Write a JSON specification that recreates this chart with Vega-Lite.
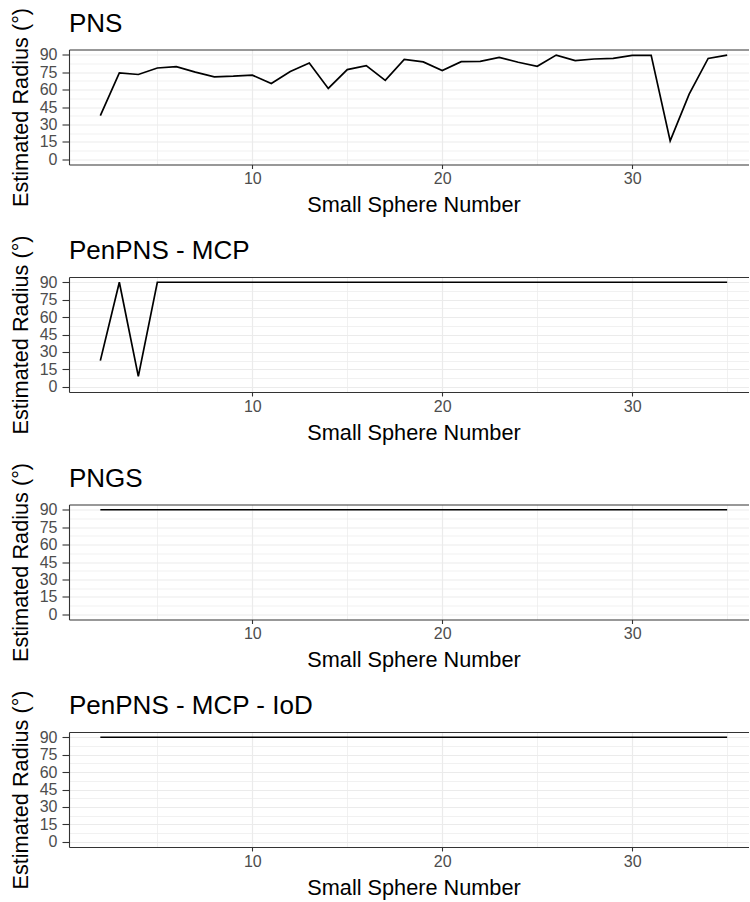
{
  "$schema": "https://vega.github.io/schema/vega-lite/v6.json",
  "padding": {"left": 10, "top": 6.5, "right": 0, "bottom": 0},
  "background": "white",
  "config": {
    "view": {"stroke": null},
    "font": "Liberation Sans",
    "title": {"fontSize": 26, "fontWeight": "normal", "color": "#000000", "anchor": "start", "frame": "group", "baseline": "alphabetic", "offset": -29.5},
    "axis": {
      "labelFont": "Liberation Sans", "labelFontSize": 16, "labelColor": "#4d4d4d",
      "titleFont": "Liberation Sans", "titleFontSize": 21.7, "titleFontWeight": "normal", "titleColor": "#000000",
      "tickColor": "#333333", "tickWidth": 1.1, "domainColor": "#333333", "domainWidth": 1.1,
      "gridColor": "#ebebeb"
    },
    "concat": {"spacing": 17.5}
  },
  "data": {"values": [
    {"method": "PNS", "sphere": 2, "radius": 37.5},
    {"method": "PNS", "sphere": 3, "radius": 74.4},
    {"method": "PNS", "sphere": 4, "radius": 73.0},
    {"method": "PNS", "sphere": 5, "radius": 78.6},
    {"method": "PNS", "sphere": 6, "radius": 79.8},
    {"method": "PNS", "sphere": 7, "radius": 75.0},
    {"method": "PNS", "sphere": 8, "radius": 71.0},
    {"method": "PNS", "sphere": 9, "radius": 71.5},
    {"method": "PNS", "sphere": 10, "radius": 72.4},
    {"method": "PNS", "sphere": 11, "radius": 65.3},
    {"method": "PNS", "sphere": 12, "radius": 75.5},
    {"method": "PNS", "sphere": 13, "radius": 82.9},
    {"method": "PNS", "sphere": 14, "radius": 61.0},
    {"method": "PNS", "sphere": 15, "radius": 77.2},
    {"method": "PNS", "sphere": 16, "radius": 80.6},
    {"method": "PNS", "sphere": 17, "radius": 67.9},
    {"method": "PNS", "sphere": 18, "radius": 86.0},
    {"method": "PNS", "sphere": 19, "radius": 83.8},
    {"method": "PNS", "sphere": 20, "radius": 76.4},
    {"method": "PNS", "sphere": 21, "radius": 84.0},
    {"method": "PNS", "sphere": 22, "radius": 84.3},
    {"method": "PNS", "sphere": 23, "radius": 87.7},
    {"method": "PNS", "sphere": 24, "radius": 83.5},
    {"method": "PNS", "sphere": 25, "radius": 80.0},
    {"method": "PNS", "sphere": 26, "radius": 89.7},
    {"method": "PNS", "sphere": 27, "radius": 84.9},
    {"method": "PNS", "sphere": 28, "radius": 86.3},
    {"method": "PNS", "sphere": 29, "radius": 86.9},
    {"method": "PNS", "sphere": 30, "radius": 89.4},
    {"method": "PNS", "sphere": 31, "radius": 89.4},
    {"method": "PNS", "sphere": 32, "radius": 15.8},
    {"method": "PNS", "sphere": 33, "radius": 56.0},
    {"method": "PNS", "sphere": 34, "radius": 86.8},
    {"method": "PNS", "sphere": 35, "radius": 89.7},

    {"method": "PenPNS - MCP", "sphere": 2, "radius": 22.5},
    {"method": "PenPNS - MCP", "sphere": 3, "radius": 90},
    {"method": "PenPNS - MCP", "sphere": 4, "radius": 9.0},
    {"method": "PenPNS - MCP", "sphere": 5, "radius": 90},
    {"method": "PenPNS - MCP", "sphere": 6, "radius": 90},
    {"method": "PenPNS - MCP", "sphere": 7, "radius": 90},
    {"method": "PenPNS - MCP", "sphere": 8, "radius": 90},
    {"method": "PenPNS - MCP", "sphere": 9, "radius": 90},
    {"method": "PenPNS - MCP", "sphere": 10, "radius": 90},
    {"method": "PenPNS - MCP", "sphere": 11, "radius": 90},
    {"method": "PenPNS - MCP", "sphere": 12, "radius": 90},
    {"method": "PenPNS - MCP", "sphere": 13, "radius": 90},
    {"method": "PenPNS - MCP", "sphere": 14, "radius": 90},
    {"method": "PenPNS - MCP", "sphere": 15, "radius": 90},
    {"method": "PenPNS - MCP", "sphere": 16, "radius": 90},
    {"method": "PenPNS - MCP", "sphere": 17, "radius": 90},
    {"method": "PenPNS - MCP", "sphere": 18, "radius": 90},
    {"method": "PenPNS - MCP", "sphere": 19, "radius": 90},
    {"method": "PenPNS - MCP", "sphere": 20, "radius": 90},
    {"method": "PenPNS - MCP", "sphere": 21, "radius": 90},
    {"method": "PenPNS - MCP", "sphere": 22, "radius": 90},
    {"method": "PenPNS - MCP", "sphere": 23, "radius": 90},
    {"method": "PenPNS - MCP", "sphere": 24, "radius": 90},
    {"method": "PenPNS - MCP", "sphere": 25, "radius": 90},
    {"method": "PenPNS - MCP", "sphere": 26, "radius": 90},
    {"method": "PenPNS - MCP", "sphere": 27, "radius": 90},
    {"method": "PenPNS - MCP", "sphere": 28, "radius": 90},
    {"method": "PenPNS - MCP", "sphere": 29, "radius": 90},
    {"method": "PenPNS - MCP", "sphere": 30, "radius": 90},
    {"method": "PenPNS - MCP", "sphere": 31, "radius": 90},
    {"method": "PenPNS - MCP", "sphere": 32, "radius": 90},
    {"method": "PenPNS - MCP", "sphere": 33, "radius": 90},
    {"method": "PenPNS - MCP", "sphere": 34, "radius": 90},
    {"method": "PenPNS - MCP", "sphere": 35, "radius": 90},

    {"method": "PNGS", "sphere": 2, "radius": 90},
    {"method": "PNGS", "sphere": 3, "radius": 90},
    {"method": "PNGS", "sphere": 4, "radius": 90},
    {"method": "PNGS", "sphere": 5, "radius": 90},
    {"method": "PNGS", "sphere": 6, "radius": 90},
    {"method": "PNGS", "sphere": 7, "radius": 90},
    {"method": "PNGS", "sphere": 8, "radius": 90},
    {"method": "PNGS", "sphere": 9, "radius": 90},
    {"method": "PNGS", "sphere": 10, "radius": 90},
    {"method": "PNGS", "sphere": 11, "radius": 90},
    {"method": "PNGS", "sphere": 12, "radius": 90},
    {"method": "PNGS", "sphere": 13, "radius": 90},
    {"method": "PNGS", "sphere": 14, "radius": 90},
    {"method": "PNGS", "sphere": 15, "radius": 90},
    {"method": "PNGS", "sphere": 16, "radius": 90},
    {"method": "PNGS", "sphere": 17, "radius": 90},
    {"method": "PNGS", "sphere": 18, "radius": 90},
    {"method": "PNGS", "sphere": 19, "radius": 90},
    {"method": "PNGS", "sphere": 20, "radius": 90},
    {"method": "PNGS", "sphere": 21, "radius": 90},
    {"method": "PNGS", "sphere": 22, "radius": 90},
    {"method": "PNGS", "sphere": 23, "radius": 90},
    {"method": "PNGS", "sphere": 24, "radius": 90},
    {"method": "PNGS", "sphere": 25, "radius": 90},
    {"method": "PNGS", "sphere": 26, "radius": 90},
    {"method": "PNGS", "sphere": 27, "radius": 90},
    {"method": "PNGS", "sphere": 28, "radius": 90},
    {"method": "PNGS", "sphere": 29, "radius": 90},
    {"method": "PNGS", "sphere": 30, "radius": 90},
    {"method": "PNGS", "sphere": 31, "radius": 90},
    {"method": "PNGS", "sphere": 32, "radius": 90},
    {"method": "PNGS", "sphere": 33, "radius": 90},
    {"method": "PNGS", "sphere": 34, "radius": 90},
    {"method": "PNGS", "sphere": 35, "radius": 90},

    {"method": "PenPNS - MCP - IoD", "sphere": 2, "radius": 90},
    {"method": "PenPNS - MCP - IoD", "sphere": 3, "radius": 90},
    {"method": "PenPNS - MCP - IoD", "sphere": 4, "radius": 90},
    {"method": "PenPNS - MCP - IoD", "sphere": 5, "radius": 90},
    {"method": "PenPNS - MCP - IoD", "sphere": 6, "radius": 90},
    {"method": "PenPNS - MCP - IoD", "sphere": 7, "radius": 90},
    {"method": "PenPNS - MCP - IoD", "sphere": 8, "radius": 90},
    {"method": "PenPNS - MCP - IoD", "sphere": 9, "radius": 90},
    {"method": "PenPNS - MCP - IoD", "sphere": 10, "radius": 90},
    {"method": "PenPNS - MCP - IoD", "sphere": 11, "radius": 90},
    {"method": "PenPNS - MCP - IoD", "sphere": 12, "radius": 90},
    {"method": "PenPNS - MCP - IoD", "sphere": 13, "radius": 90},
    {"method": "PenPNS - MCP - IoD", "sphere": 14, "radius": 90},
    {"method": "PenPNS - MCP - IoD", "sphere": 15, "radius": 90},
    {"method": "PenPNS - MCP - IoD", "sphere": 16, "radius": 90},
    {"method": "PenPNS - MCP - IoD", "sphere": 17, "radius": 90},
    {"method": "PenPNS - MCP - IoD", "sphere": 18, "radius": 90},
    {"method": "PenPNS - MCP - IoD", "sphere": 19, "radius": 90},
    {"method": "PenPNS - MCP - IoD", "sphere": 20, "radius": 90},
    {"method": "PenPNS - MCP - IoD", "sphere": 21, "radius": 90},
    {"method": "PenPNS - MCP - IoD", "sphere": 22, "radius": 90},
    {"method": "PenPNS - MCP - IoD", "sphere": 23, "radius": 90},
    {"method": "PenPNS - MCP - IoD", "sphere": 24, "radius": 90},
    {"method": "PenPNS - MCP - IoD", "sphere": 25, "radius": 90},
    {"method": "PenPNS - MCP - IoD", "sphere": 26, "radius": 90},
    {"method": "PenPNS - MCP - IoD", "sphere": 27, "radius": 90},
    {"method": "PenPNS - MCP - IoD", "sphere": 28, "radius": 90},
    {"method": "PenPNS - MCP - IoD", "sphere": 29, "radius": 90},
    {"method": "PenPNS - MCP - IoD", "sphere": 30, "radius": 90},
    {"method": "PenPNS - MCP - IoD", "sphere": 31, "radius": 90},
    {"method": "PenPNS - MCP - IoD", "sphere": 32, "radius": 90},
    {"method": "PenPNS - MCP - IoD", "sphere": 33, "radius": 90},
    {"method": "PenPNS - MCP - IoD", "sphere": 34, "radius": 90},
    {"method": "PenPNS - MCP - IoD", "sphere": 35, "radius": 90}
  ]},
  "vconcat": [
    {
      "title": {"text": "PNS"},
      "width": 680, "height": 115,
      "transform": [{"filter": "datum.method === 'PNS'"}],
      "layer": [
        {
          "mark": {"type": "line", "color": "#000000", "strokeWidth": 1.7},
          "encoding": {
            "x": {"field": "sphere", "type": "quantitative", "scale": {"domain": [0.35, 36.15], "nice": false, "zero": false},
                  "axis": {"orient": "bottom", "values": [10, 20, 30], "format": "d", "title": "Small Sphere Number", "tickSize": 4, "labelPadding": 2, "titlePadding": 8, "grid": true, "gridWidth": 1.2, "titleX": 344.5}},
            "y": {"field": "radius", "type": "quantitative", "scale": {"domain": [-4.5, 94.5], "nice": false, "zero": false},
                  "axis": {"orient": "left", "values": [0, 15, 30, 45, 60, 75, 90], "title": "Estimated Radius (°)", "tickSize": 7, "labelPadding": 5, "titlePadding": 7, "grid": true, "gridWidth": 1.2}}
          }
        },
        {
          "mark": {"type": "line", "opacity": 0},
          "encoding": {
            "x": {"field": "sphere", "type": "quantitative", "axis": {"orient": "top", "values": [5, 15, 25, 35], "labels": false, "ticks": false, "title": null, "domain": true, "grid": true, "gridWidth": 0.7}},
            "y": {"field": "radius", "type": "quantitative", "axis": {"orient": "right", "values": [7.5, 22.5, 37.5, 52.5, 67.5, 82.5], "labels": false, "ticks": false, "title": null, "domain": false, "grid": true, "gridWidth": 0.7}}
          }
        }
      ],
      "resolve": {"axis": {"x": "independent", "y": "independent"}}
    },
    {
      "title": {"text": "PenPNS - MCP"},
      "width": 680, "height": 115,
      "transform": [{"filter": "datum.method === 'PenPNS - MCP'"}],
      "layer": [
        {
          "mark": {"type": "line", "color": "#000000", "strokeWidth": 1.7},
          "encoding": {
            "x": {"field": "sphere", "type": "quantitative", "scale": {"domain": [0.35, 36.15], "nice": false, "zero": false},
                  "axis": {"orient": "bottom", "values": [10, 20, 30], "format": "d", "title": "Small Sphere Number", "tickSize": 4, "labelPadding": 2, "titlePadding": 8, "grid": true, "gridWidth": 1.2, "titleX": 344.5}},
            "y": {"field": "radius", "type": "quantitative", "scale": {"domain": [-4.5, 94.5], "nice": false, "zero": false},
                  "axis": {"orient": "left", "values": [0, 15, 30, 45, 60, 75, 90], "title": "Estimated Radius (°)", "tickSize": 7, "labelPadding": 5, "titlePadding": 7, "grid": true, "gridWidth": 1.2}}
          }
        },
        {
          "mark": {"type": "line", "opacity": 0},
          "encoding": {
            "x": {"field": "sphere", "type": "quantitative", "axis": {"orient": "top", "values": [5, 15, 25, 35], "labels": false, "ticks": false, "title": null, "domain": true, "grid": true, "gridWidth": 0.7}},
            "y": {"field": "radius", "type": "quantitative", "axis": {"orient": "right", "values": [7.5, 22.5, 37.5, 52.5, 67.5, 82.5], "labels": false, "ticks": false, "title": null, "domain": false, "grid": true, "gridWidth": 0.7}}
          }
        }
      ],
      "resolve": {"axis": {"x": "independent", "y": "independent"}}
    },
    {
      "title": {"text": "PNGS"},
      "width": 680, "height": 115,
      "transform": [{"filter": "datum.method === 'PNGS'"}],
      "layer": [
        {
          "mark": {"type": "line", "color": "#000000", "strokeWidth": 1.7},
          "encoding": {
            "x": {"field": "sphere", "type": "quantitative", "scale": {"domain": [0.35, 36.15], "nice": false, "zero": false},
                  "axis": {"orient": "bottom", "values": [10, 20, 30], "format": "d", "title": "Small Sphere Number", "tickSize": 4, "labelPadding": 2, "titlePadding": 8, "grid": true, "gridWidth": 1.2, "titleX": 344.5}},
            "y": {"field": "radius", "type": "quantitative", "scale": {"domain": [-4.5, 94.5], "nice": false, "zero": false},
                  "axis": {"orient": "left", "values": [0, 15, 30, 45, 60, 75, 90], "title": "Estimated Radius (°)", "tickSize": 7, "labelPadding": 5, "titlePadding": 7, "grid": true, "gridWidth": 1.2}}
          }
        },
        {
          "mark": {"type": "line", "opacity": 0},
          "encoding": {
            "x": {"field": "sphere", "type": "quantitative", "axis": {"orient": "top", "values": [5, 15, 25, 35], "labels": false, "ticks": false, "title": null, "domain": true, "grid": true, "gridWidth": 0.7}},
            "y": {"field": "radius", "type": "quantitative", "axis": {"orient": "right", "values": [7.5, 22.5, 37.5, 52.5, 67.5, 82.5], "labels": false, "ticks": false, "title": null, "domain": false, "grid": true, "gridWidth": 0.7}}
          }
        }
      ],
      "resolve": {"axis": {"x": "independent", "y": "independent"}}
    },
    {
      "title": {"text": "PenPNS - MCP - IoD"},
      "width": 680, "height": 115,
      "transform": [{"filter": "datum.method === 'PenPNS - MCP - IoD'"}],
      "layer": [
        {
          "mark": {"type": "line", "color": "#000000", "strokeWidth": 1.7},
          "encoding": {
            "x": {"field": "sphere", "type": "quantitative", "scale": {"domain": [0.35, 36.15], "nice": false, "zero": false},
                  "axis": {"orient": "bottom", "values": [10, 20, 30], "format": "d", "title": "Small Sphere Number", "tickSize": 4, "labelPadding": 2, "titlePadding": 8, "grid": true, "gridWidth": 1.2, "titleX": 344.5}},
            "y": {"field": "radius", "type": "quantitative", "scale": {"domain": [-4.5, 94.5], "nice": false, "zero": false},
                  "axis": {"orient": "left", "values": [0, 15, 30, 45, 60, 75, 90], "title": "Estimated Radius (°)", "tickSize": 7, "labelPadding": 5, "titlePadding": 7, "grid": true, "gridWidth": 1.2}}
          }
        },
        {
          "mark": {"type": "line", "opacity": 0},
          "encoding": {
            "x": {"field": "sphere", "type": "quantitative", "axis": {"orient": "top", "values": [5, 15, 25, 35], "labels": false, "ticks": false, "title": null, "domain": true, "grid": true, "gridWidth": 0.7}},
            "y": {"field": "radius", "type": "quantitative", "axis": {"orient": "right", "values": [7.5, 22.5, 37.5, 52.5, 67.5, 82.5], "labels": false, "ticks": false, "title": null, "domain": false, "grid": true, "gridWidth": 0.7}}
          }
        }
      ],
      "resolve": {"axis": {"x": "independent", "y": "independent"}}
    }
  ]
}
